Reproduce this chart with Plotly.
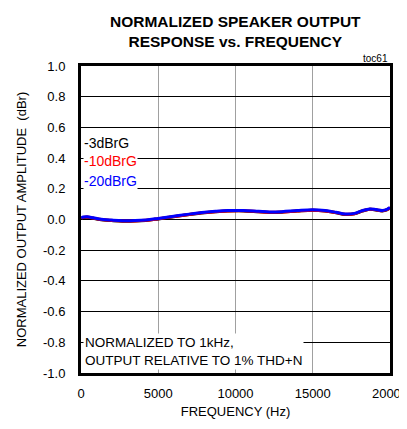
import plotly.graph_objects as go

# frequency points (Hz)
freq = [20, 150, 400, 800, 1200, 2000, 2700, 3500, 4200, 5000, 6000, 7000, 8000, 8700,
        9500, 10500, 11500, 12200, 13000, 14000, 15000, 15800, 16500, 17100, 17700,
        18200, 18700, 19100, 19500, 19800, 20000]

# normalized amplitude (dBr) per level
amp_3 = [0.005, 0.012, 0.015, 0.008, 0.0, -0.007, -0.011, -0.01, -0.006, 0.004, 0.018, 0.032,
         0.044, 0.05, 0.055, 0.056, 0.05, 0.046, 0.048, 0.055, 0.06, 0.055, 0.044, 0.033, 0.037,
         0.055, 0.066, 0.062, 0.056, 0.063, 0.075]
amp_10 = [0.008, 0.014, 0.016, 0.009, 0.001, -0.006, -0.01, -0.009, -0.005, 0.005, 0.019, 0.033,
          0.045, 0.051, 0.056, 0.057, 0.051, 0.047, 0.049, 0.056, 0.061, 0.056, 0.045, 0.034, 0.038,
          0.056, 0.067, 0.063, 0.057, 0.064, 0.076]
amp_20 = [0.01, 0.016, 0.018, 0.011, 0.003, -0.004, -0.008, -0.007, -0.003, 0.007, 0.021, 0.035,
          0.047, 0.053, 0.058, 0.059, 0.053, 0.049, 0.051, 0.058, 0.063, 0.058, 0.047, 0.036, 0.04,
          0.058, 0.069, 0.065, 0.059, 0.066, 0.078]

x_ticks = [0, 5000, 10000, 15000, 20000]
y_ticks = [1.0, 0.8, 0.6, 0.4, 0.2, 0.0, -0.2, -0.4, -0.6, -0.8, -1.0]

fnt = "Liberation Sans, Arial, sans-serif"

fig = go.Figure()
fig.add_trace(go.Scatter(x=freq, y=amp_3, mode="lines", line=dict(color="black", width=3, shape="spline")))
fig.add_trace(go.Scatter(x=freq, y=amp_10, mode="lines", line=dict(color="red", width=3, shape="spline")))
fig.add_trace(go.Scatter(x=freq, y=amp_20, mode="lines", line=dict(color="blue", width=3, shape="spline")))

# page body has an 8px margin, so the figure is shrunk to fit the window
fig.update_layout(
    width=399, height=421,
    margin=dict(l=73, r=17, t=58, b=56),
    paper_bgcolor="white", plot_bgcolor="white",
    showlegend=False,
    font=dict(family=fnt, size=13, color="black"),
)
fig.update_xaxes(range=[0, 20000], tickvals=x_ticks, ticktext=[str(v) for v in x_ticks],
                 showgrid=True, gridcolor="#a0a0a0", gridwidth=1,
                 showline=True, linecolor="black", linewidth=3, mirror=True,
                 zeroline=False, ticks="", ticklen=0, ticklabelstandoff=6,
                 ticklabeloverflow="allow", automargin=False,
                 title=dict(text="FREQUENCY (Hz)", font=dict(size=13), standoff=8))
fig.update_yaxes(range=[-1.0, 1.0], tickvals=y_ticks, ticktext=["%.1f" % v for v in y_ticks],
                 showgrid=True, gridcolor="black", gridwidth=1,
                 showline=True, linecolor="black", linewidth=3, mirror=True,
                 zeroline=False, ticks="", ticklen=0, ticklabelstandoff=10, automargin=False,
                 title=dict(text="NORMALIZED OUTPUT AMPLITUDE  (dBr)", font=dict(size=13), standoff=14))

fig.add_annotation(x=0.5, y=1.0, xref="x domain", yref="paper", showarrow=False,
                   text="<b>NORMALIZED SPEAKER OUTPUT<br>RESPONSE vs. FREQUENCY</b>",
                   font=dict(size=15.5), xanchor="center", yanchor="bottom", yshift=14)

labels = [("-3dBrG", "black", 0.5), ("-10dBrG", "red", 0.38), ("-20dBrG", "blue", 0.25)]
for txt, col, yv in labels:
    fig.add_annotation(x=150, y=yv, xref="x", yref="y", text=txt, showarrow=False,
                       xanchor="left", yanchor="middle", bgcolor="white",
                       font=dict(color=col, size=14), borderpad=0)

fig.add_annotation(x=150, y=-0.86, xref="x", yref="y", align="left",
                   text="NORMALIZED TO 1kHz,<br>OUTPUT RELATIVE TO 1% THD+N",
                   showarrow=False, xanchor="left", yanchor="middle", bgcolor="white",
                   font=dict(size=13.5), borderpad=1)

fig.add_annotation(x=1.0, y=1.0, xref="paper", yref="paper", text="toc61", showarrow=False,
                   xanchor="right", yanchor="bottom", font=dict(size=10), yshift=0)

fig.write_html("out.html")
